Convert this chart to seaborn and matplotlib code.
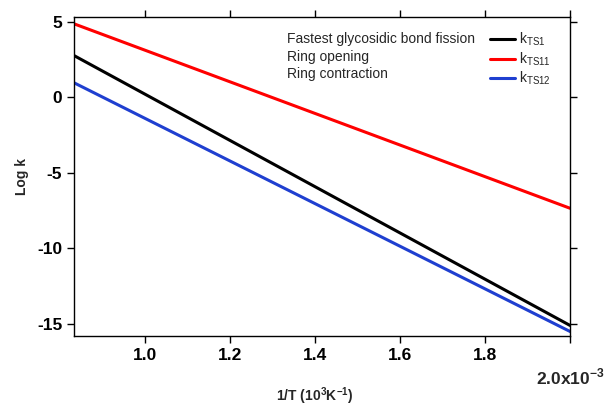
import numpy as np
import pandas as pd
import seaborn as sns
import matplotlib.pyplot as plt
from matplotlib.lines import Line2D

# 1/T in units of 1e-3 K^-1 (1200 K -> 500 K)
inv_T = [0.8333, 2.0]
log_k_ts1 = [2.75, -15.1]
log_k_ts11 = [4.85, -7.35]
log_k_ts12 = [0.95, -15.5]

series = [r"k$_\mathrm{TS1}$", r"k$_\mathrm{TS11}$", r"k$_\mathrm{TS12}$"]
descriptions = ["Fastest glycosidic bond fission", "Ring opening", "Ring contraction"]
colors = ["black", "#ff0000", "#1f3fd0"]
x_ticks = [1.0, 1.2, 1.4, 1.6, 1.8, 2.0]
y_ticks = [5, 0, -5, -10, -15]

df = pd.DataFrame({
    "x": inv_T * 3,
    "y": log_k_ts1 + log_k_ts11 + log_k_ts12,
    "series": [s for s in series for _ in inv_T],
})

sns.set_style("ticks")
plt.rcParams["font.family"] = ["Liberation Sans", "DejaVu Sans"]
plt.rcParams["mathtext.fontset"] = "custom"
plt.rcParams["mathtext.rm"] = "Liberation Sans"
plt.rcParams["mathtext.bf"] = "Liberation Sans:bold"

fig = plt.figure(figsize=(6.06, 4.08), dpi=100)
ax = fig.add_axes([74 / 606, 1 - 336 / 408, (570 - 74) / 606, (336 - 17) / 408])

sns.lineplot(data=df, x="x", y="y", hue="series", palette=colors,
             linewidth=2.2, legend=False, ax=ax)

ax.set_xlim(0.8333, 2.0)
ax.set_ylim(-15.8, 5.3)
ax.set_xticks(x_ticks)
ax.set_xticklabels(["1.0", "1.2", "1.4", "1.6", "1.8", ""])
ax.set_yticks(y_ticks)
ax.set_yticklabels([str(v) for v in y_ticks])
ax.tick_params(direction="out", length=5, width=1, labelsize=12.5,
               top=True, right=True, colors="black")
for lab in ax.get_xticklabels() + ax.get_yticklabels():
    lab.set_fontweight("bold")
for sp in ax.spines.values():
    sp.set_linewidth(1)
    sp.set_color("black")

ax.text(1.0, -0.095, r"2.0x10$^\mathbf{-3}$", transform=ax.transAxes, ha="center", va="top",
        fontsize=12.5, fontweight="bold")
ax.set_xlabel(r"1/T (10$^\mathbf{3}$K$^\mathbf{-1}$)", fontsize=10, fontweight="bold", labelpad=15)
ax.xaxis.set_label_coords(0.485, -0.155)
ax.set_ylabel("Log k", fontsize=10, fontweight="bold", labelpad=6)

# description texts beside legend
for i, d in enumerate(descriptions):
    ax.text(0.43, 0.93 - i * 0.055, d, transform=ax.transAxes,
            fontsize=10, va="center", ha="left")

handles = [Line2D([0], [0], color=c, lw=2.2) for c in colors]
leg = ax.legend(handles, series, loc="upper right", bbox_to_anchor=(0.99, 1.0),
                frameon=False, fontsize=10, handlelength=1.8, handletextpad=0.3,
                labelspacing=0.15, borderaxespad=0.6)

fig.savefig("out.png", dpi=100)
